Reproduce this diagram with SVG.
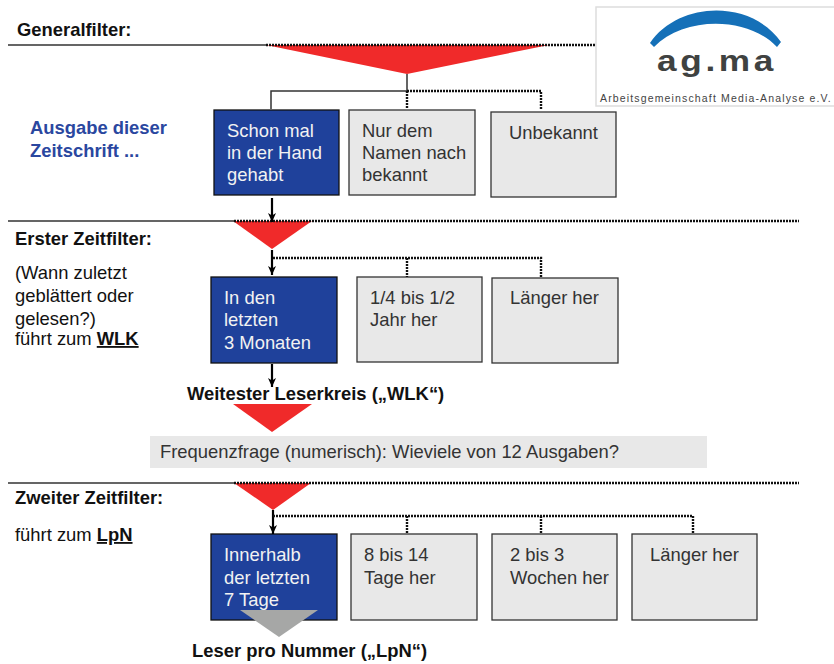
<svg xmlns="http://www.w3.org/2000/svg" width="834" height="664" viewBox="0 0 834 664">
<defs>
<marker id="ah" markerUnits="userSpaceOnUse" markerWidth="10" markerHeight="8" refX="9" refY="4" orient="auto"><path d="M0,0 L9,4 L0,8 L2.5,4 Z" fill="#000"/></marker>
</defs>
<style>
text{font-family:"Liberation Sans",Arial,sans-serif}
.b{fill:#1f419b;stroke:#111;stroke-width:1.3}
.g{fill:#e8e8e8;stroke:#333;stroke-width:1.3}
.wt{fill:#f2f2f2;font-size:18.4px}
.dt{fill:#333;font-size:18.4px}
.h{font-size:18.4px;font-weight:bold;fill:#111}
.p{font-size:18.4px;fill:#111}
.s{fill:none;stroke:#333;stroke-width:1.5}
.d{fill:none;stroke:#111;stroke-width:2.4;stroke-dasharray:2 1}
.a{fill:none;stroke:#000;stroke-width:2.2;marker-end:url(#ah)}
.r{fill:#f02a2a}
</style>
<g id="logo">
<rect x="596" y="7" width="240" height="99" fill="#fff" stroke="#ddd" stroke-width="1.5"/>
<path d="M650,43 C680,0 752,0 781,42 L777,47 C748,16 684,16 654,47 Z" fill="#1570b8"/>
<text x="657" y="71" textLength="120" lengthAdjust="spacingAndGlyphs" style="font-size:29px;font-weight:bold;letter-spacing:3px" fill="#3f4241">ag.ma</text>
<text x="600" y="102" style="font-size:10.5px;letter-spacing:1.15px" fill="#444">Arbeitsgemeinschaft Media-Analyse e.V.</text>
</g>
<g id="filter-general">
<text class="h" x="17" y="36">Generalfilter:</text>
<path class="r" d="M266,45H549L407,74Z"/>
</g>
<g id="label-ausgabe" font-weight="bold" fill="#2a479f" style="font-size:18.4px">
<text x="30" y="134">Ausgabe dieser</text>
<text x="30" y="157">Zeitschrift ...</text>
</g>
<g id="n1">
<rect class="b" x="214" y="110" width="125" height="85"/>
<text class="wt" x="227" y="137">Schon mal</text><text class="wt" x="227" y="159">in der Hand</text><text class="wt" x="227" y="181">gehabt</text>
</g>
<g id="n2">
<rect class="g" x="349" y="110" width="126" height="85"/>
<text class="dt" x="362" y="137">Nur dem</text><text class="dt" x="362" y="159">Namen nach</text><text class="dt" x="362" y="181">bekannt</text>
</g>
<g id="n3">
<rect class="g" x="491" y="112" width="125" height="85"/>
<text class="dt" x="509" y="139">Unbekannt</text>
</g>
<g id="filter-erster">
<text class="h" x="15" y="245">Erster Zeitfilter:</text>
<path class="r" d="M233,221H312L272,249Z"/>
<text class="p" x="15" y="279">(Wann zuletzt</text>
<text class="p" x="15" y="302">geblättert oder</text>
<text class="p" x="15" y="325">gelesen?)</text>
<text class="p" x="15" y="345">führt zum <tspan font-weight="bold" text-decoration="underline">WLK</tspan></text>
</g>
<g id="n4">
<rect class="b" x="211" y="277" width="126" height="86"/>
<text class="wt" x="224" y="304">In den</text><text class="wt" x="224" y="326">letzten</text><text class="wt" x="224" y="349">3 Monaten</text>
</g>
<g id="n5">
<rect class="g" x="357" y="277" width="125" height="85"/>
<text class="dt" x="370" y="304">1/4 bis 1/2</text><text class="dt" x="370" y="326">Jahr her</text>
</g>
<g id="n6">
<rect class="g" x="492" y="278" width="126" height="85"/>
<text class="dt" x="510" y="304">Länger her</text>
</g>
<g id="wlk">
<text class="h" x="187" y="400">Weitester Leserkreis („WLK“)</text>
<path class="r" d="M233,404H312L272,432Z"/>
</g>
<g id="frequenz">
<rect x="150" y="436" width="557" height="32" fill="#e8e8e8"/>
<text x="160" y="458" fill="#333" style="font-size:18.4px">Frequenzfrage (numerisch): Wieviele von 12 Ausgaben?</text>
</g>
<g id="filter-zweiter">
<text class="h" x="15" y="504">Zweiter Zeitfilter:</text>
<path class="r" d="M234,483H311L273,510Z"/>
<text class="p" x="15" y="541">führt zum <tspan font-weight="bold" text-decoration="underline">LpN</tspan></text>
</g>
<g id="n7">
<rect class="b" x="211" y="534" width="126" height="86"/>
<text class="wt" x="224" y="561">Innerhalb</text><text class="wt" x="224" y="584">der letzten</text><text class="wt" x="224" y="606">7 Tage</text>
</g>
<g id="n8">
<rect class="g" x="351" y="534" width="126" height="86"/>
<text class="dt" x="364" y="561">8 bis 14</text><text class="dt" x="364" y="584">Tage her</text>
</g>
<g id="n9">
<rect class="g" x="492" y="534" width="125" height="86"/>
<text class="dt" x="510" y="561">2 bis 3</text><text class="dt" x="510" y="584">Wochen her</text>
</g>
<g id="n10">
<rect class="g" x="632" y="534" width="125" height="86"/>
<text class="dt" x="650" y="561">Länger her</text>
</g>
<g id="lpn">
<path d="M240,610H318L279,637Z" fill="#a6a7a6"/>
<text class="h" x="192" y="657">Leser pro Nummer („LpN“)</text>
</g>
<g id="connectors">
<path class="s" d="M8,45H266M8,221H234M8,483H234"/>
<path class="d" d="M266,45H596M234,221H799M234,483H799"/>
<path class="s" d="M407,74V91H271V109"/>
<path class="d" d="M407,91H541V110M407,91V109"/>
<path class="a" d="M272,198V222"/>
<path class="a" d="M272,250V275"/>
<path class="d" d="M273,258H541V277M407,258V277"/>
<path class="a" d="M272,364V387"/>
<path class="a" d="M273,510V534"/>
<path class="d" d="M273,516H693V534M407,516V534M541,516V534"/>
</g>
</svg>
